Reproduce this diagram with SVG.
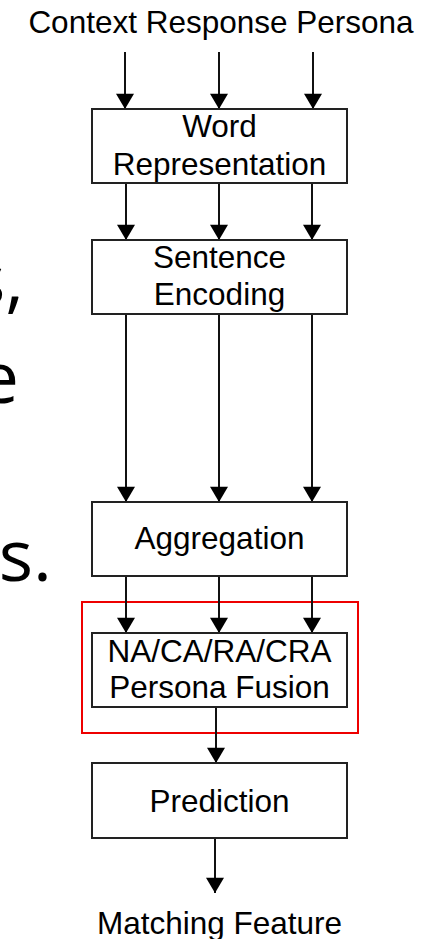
<svg xmlns="http://www.w3.org/2000/svg" width="431" height="939" viewBox="0 0 431 939">
<defs>
<marker id="ah" markerUnits="userSpaceOnUse" markerWidth="20" markerHeight="18" refX="17" refY="10" orient="auto" viewBox="0 0 17 20">
<path d="M0,0 L17,10 L0,20 Z" fill="#000"/>
</marker>
<style>
.box{fill:#fff;stroke:#222;stroke-width:2}
.lbl{font-family:"Liberation Sans",Arial,sans-serif;font-size:31.5px;fill:#000;text-anchor:middle}
.side{font-family:"Open Sans","Noto Sans",sans-serif;font-size:72px;fill:#000;text-anchor:end}
.con line{stroke:#111;stroke-width:2;marker-end:url(#ah)}
</style>
</defs>
<rect width="431" height="939" fill="#fff"/>
<g id="side-text">
<text class="side" x="24" y="305">s,</text>
<text class="side" x="19" y="403">e</text>
<text class="side" x="52" y="581">gs.</text>
</g>
<g id="inputs">
<text class="lbl" x="221" y="33">Context Response Persona</text>
</g>
<g id="highlight">
<rect x="82" y="602" width="276" height="131" fill="none" stroke="#e00" stroke-width="2"/>
</g>
<g class="con" id="connectors">
<line x1="125" y1="52" x2="125" y2="109"/>
<line x1="219" y1="52" x2="219" y2="109"/>
<line x1="313" y1="52" x2="313" y2="109"/>
<line x1="126" y1="183" x2="126" y2="240"/>
<line x1="219" y1="183" x2="219" y2="240"/>
<line x1="312" y1="183" x2="312" y2="240"/>
<line x1="126" y1="314" x2="126" y2="502"/>
<line x1="219" y1="314" x2="219" y2="502"/>
<line x1="312" y1="314" x2="312" y2="502"/>
<line x1="126" y1="576" x2="126" y2="633"/>
<line x1="219" y1="576" x2="219" y2="633"/>
<line x1="312" y1="576" x2="312" y2="633"/>
<line x1="216" y1="707" x2="216" y2="763"/>
<line x1="215" y1="838" x2="215" y2="893"/>
</g>
<g id="word">
<rect class="box" x="92" y="109" width="255" height="74"/>
<text class="lbl" x="219.5" y="137">Word</text>
<text class="lbl" x="219.5" y="175">Representation</text>
</g>
<g id="sentence">
<rect class="box" x="92" y="240" width="255" height="74"/>
<text class="lbl" x="219.5" y="268">Sentence</text>
<text class="lbl" x="219.5" y="305">Encoding</text>
</g>
<g id="aggregation">
<rect class="box" x="92" y="502" width="255" height="74"/>
<text class="lbl" x="219.5" y="549">Aggregation</text>
</g>
<g id="fusion">
<rect class="box" x="92" y="633" width="255" height="74"/>
<text class="lbl" x="219.5" y="662">NA/CA/RA/CRA</text>
<text class="lbl" x="219.5" y="698">Persona Fusion</text>
</g>
<g id="prediction">
<rect class="box" x="92" y="763" width="255" height="75"/>
<text class="lbl" x="219.5" y="812">Prediction</text>
</g>
<g id="output">
<text class="lbl" x="219.5" y="934">Matching Feature</text>
</g>
</svg>
